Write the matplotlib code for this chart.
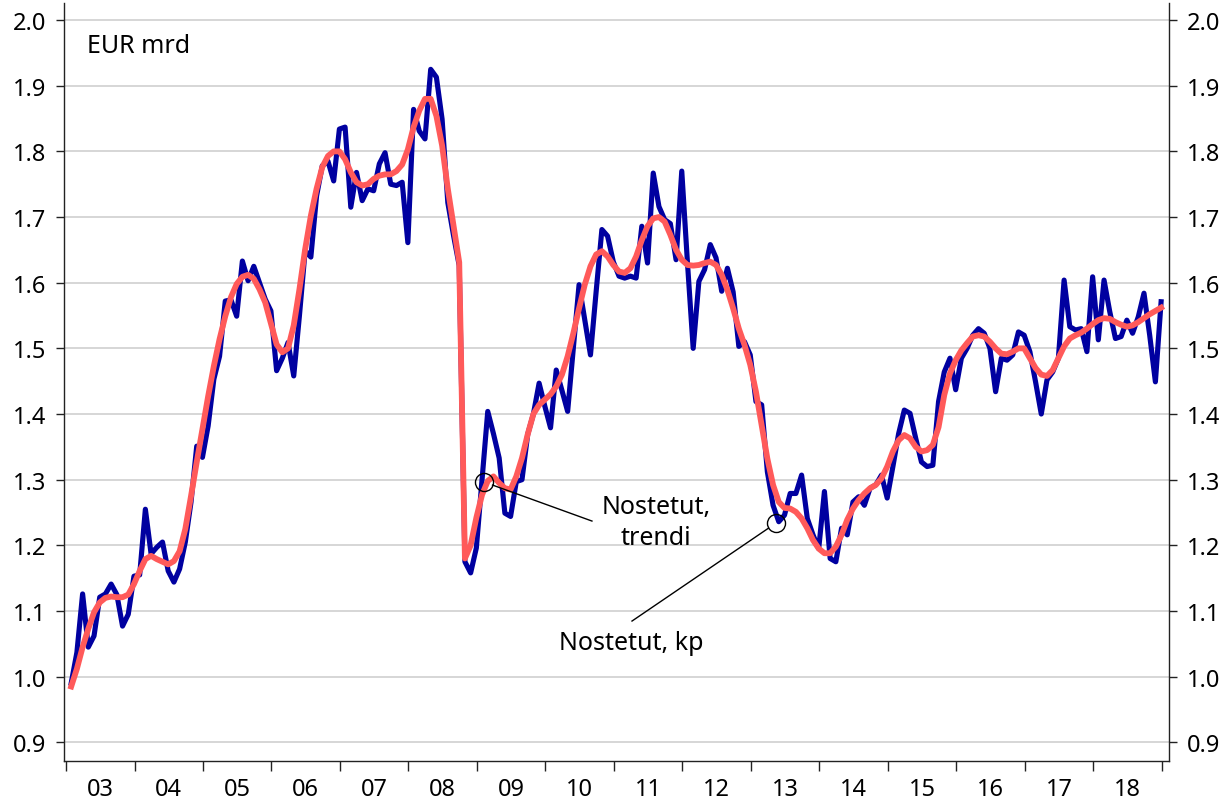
import numpy as np
import matplotlib.pyplot as plt
from matplotlib.ticker import FixedLocator, FuncFormatter, NullFormatter

plt.rcParams['font.family'] = ['Noto Sans', 'DejaVu Sans']

# Years shown on the axis (03 ... 18), monthly data Jan 2003 - Dec 2018
years = list(range(2003, 2019))
year_labels = [f"{y % 100:02d}" for y in years]

# Nostetut, kp (EUR mrd), monthly
nostetut_kp = [
    0.990, 1.037, 1.126, 1.045, 1.062, 1.121, 1.126, 1.141, 1.125, 1.077, 1.095, 1.153,
    1.155, 1.255, 1.187, 1.197, 1.205, 1.161, 1.144, 1.164, 1.205, 1.266, 1.351, 1.334,
    1.382, 1.453, 1.488, 1.572, 1.574, 1.549, 1.633, 1.603, 1.625, 1.600, 1.575, 1.557,
    1.466, 1.485, 1.509, 1.458, 1.550, 1.649, 1.639, 1.732, 1.778, 1.785, 1.755, 1.834,
    1.837, 1.715, 1.768, 1.725, 1.743, 1.740, 1.781, 1.798, 1.750, 1.748, 1.753, 1.661,
    1.864, 1.831, 1.819, 1.925, 1.913, 1.849, 1.722, 1.672, 1.626, 1.175, 1.158, 1.196,
    1.300, 1.404, 1.370, 1.333, 1.249, 1.244, 1.297, 1.300, 1.369, 1.400, 1.447, 1.412,
    1.379, 1.467, 1.436, 1.404, 1.500, 1.597, 1.544, 1.490, 1.587, 1.681, 1.671, 1.632,
    1.610, 1.607, 1.610, 1.607, 1.686, 1.630, 1.767, 1.716, 1.696, 1.690, 1.635, 1.770,
    1.630, 1.500, 1.602, 1.620, 1.658, 1.638, 1.587, 1.622, 1.586, 1.503, 1.510, 1.490,
    1.419, 1.414, 1.312, 1.261, 1.236, 1.246, 1.279, 1.279, 1.307, 1.241, 1.216, 1.195,
    1.282, 1.180, 1.175, 1.226, 1.216, 1.266, 1.274, 1.261, 1.287, 1.292, 1.307, 1.272,
    1.320, 1.370, 1.406, 1.401, 1.363, 1.327, 1.320, 1.322, 1.419, 1.464, 1.485, 1.437,
    1.485, 1.500, 1.520, 1.530, 1.523, 1.500, 1.434, 1.485, 1.482, 1.490, 1.525, 1.520,
    1.495, 1.449, 1.400, 1.452, 1.464, 1.485, 1.604, 1.533, 1.528, 1.530, 1.495, 1.609,
    1.513, 1.604, 1.556, 1.515, 1.518, 1.543, 1.523, 1.548, 1.584, 1.520, 1.449, 1.571,
]

# Nostetut, trendi
nostetut_trendi = [
    0.985, 1.012, 1.045, 1.073, 1.098, 1.113, 1.120, 1.122, 1.121, 1.121, 1.125, 1.141,
    1.161, 1.179, 1.184, 1.179, 1.175, 1.171, 1.176, 1.191, 1.225, 1.275, 1.327, 1.377,
    1.427, 1.473, 1.514, 1.549, 1.578, 1.598, 1.609, 1.612, 1.606, 1.590, 1.570, 1.538,
    1.506, 1.494, 1.500, 1.535, 1.590, 1.651, 1.702, 1.743, 1.776, 1.793, 1.800, 1.800,
    1.788, 1.768, 1.753, 1.748, 1.750, 1.758, 1.763, 1.765, 1.765, 1.770, 1.780, 1.803,
    1.837, 1.862, 1.880, 1.880, 1.854, 1.809, 1.743, 1.687, 1.631, 1.180, 1.200, 1.242,
    1.277, 1.298, 1.305, 1.295, 1.287, 1.285, 1.305, 1.333, 1.369, 1.400, 1.414, 1.422,
    1.430, 1.442, 1.460, 1.488, 1.523, 1.561, 1.597, 1.625, 1.643, 1.648, 1.640, 1.627,
    1.617, 1.615, 1.622, 1.640, 1.665, 1.686, 1.698, 1.700, 1.693, 1.673, 1.650, 1.635,
    1.627, 1.626, 1.627, 1.630, 1.632, 1.627, 1.612, 1.589, 1.561, 1.530, 1.505, 1.475,
    1.434, 1.383, 1.332, 1.292, 1.266, 1.257, 1.256, 1.251, 1.241, 1.226, 1.208, 1.195,
    1.188, 1.188, 1.198, 1.216, 1.239, 1.256, 1.269, 1.279, 1.287, 1.292, 1.302, 1.320,
    1.343, 1.360, 1.368, 1.363, 1.350, 1.343, 1.345, 1.353, 1.380, 1.429, 1.462, 1.482,
    1.497, 1.508, 1.518, 1.520, 1.518, 1.510, 1.500, 1.492, 1.491, 1.495, 1.500, 1.500,
    1.485, 1.470, 1.460, 1.458, 1.467, 1.485, 1.503, 1.515, 1.520, 1.524, 1.530, 1.537,
    1.543, 1.546, 1.545, 1.540, 1.536, 1.533, 1.535, 1.540, 1.546, 1.552, 1.557, 1.562,
]

# x position of each month (in years)
x = np.array([y + (m + 0.9) / 12 for y in years for m in range(12)])

W, H = 1225, 803
fig = plt.figure(figsize=(W / 100, H / 100), dpi=100)
ax = fig.add_axes([64 / W, 1 - 761.7 / H, (1169 - 64) / W, (761.7 - 4) / H])

ax.plot(x, nostetut_kp, color='#0000a0', lw=3.7, zorder=3)
ax.plot(x, nostetut_trendi, color='#ff5a5a', lw=4.2, zorder=4)

ax.set_xlim(2002.97, 2019.107)
ax.set_ylim(0.872, 2.026)

# y axis, both sides
yt = np.round(np.arange(0.9, 2.001, 0.1), 1)
ax.yaxis.set_major_locator(FixedLocator(yt))
ax.yaxis.set_major_formatter(FuncFormatter(lambda v, p: f"{v:.1f}"))
ax.yaxis.grid(True, color='#d0d0d0', lw=1.2)
ax.set_axisbelow(True)
ax.tick_params(axis='y', which='major', left=True, right=True, labelleft=True,
               labelright=True, direction='out', length=6, width=1.0,
               labelsize=17, pad=7, color='#222222')

# x axis: ticks at year boundaries, labels in the middle of each year
ax.xaxis.set_major_locator(FixedLocator(list(range(2003, 2020))))
ax.xaxis.set_major_formatter(NullFormatter())
ax.xaxis.set_minor_locator(FixedLocator([y + 0.5 for y in years]))
ax.xaxis.set_minor_formatter(FuncFormatter(lambda v, p: year_labels[p] if p < len(year_labels) else ""))
ax.tick_params(axis='x', which='major', direction='out', length=7, width=1.0, color='#222222')
ax.tick_params(axis='x', which='minor', length=0, labelsize=17, pad=12)

ax.spines['top'].set_visible(False)
for s in ['left', 'right', 'bottom']:
    ax.spines[s].set_color('#222222')
    ax.spines[s].set_linewidth(1.0)

ax.text(2003.31, 1.962, "EUR mrd", fontsize=18, ha='left', va='center')

# annotations
ax.plot([2009.104], [1.2964], 'o', ms=13, mfc='none', mec='black', mew=1.0, zorder=5)
ax.plot([2009.228, 2010.68], [1.2918, 1.237], color='black', lw=1.0, zorder=5)
ax.text(2011.615, 1.2355, "Nostetut,\ntrendi", fontsize=18, ha='center', va='center',
        multialignment='center', linespacing=1.3)

ax.plot([2013.368], [1.234], 'o', ms=13, mfc='none', mec='black', mew=1.0, zorder=5)
ax.plot([2013.26, 2011.265], [1.2263, 1.0847], color='black', lw=1.0, zorder=5)
ax.text(2011.25, 1.0527, "Nostetut, kp", fontsize=18, ha='center', va='center')

fig.savefig("out.png", dpi=100)
